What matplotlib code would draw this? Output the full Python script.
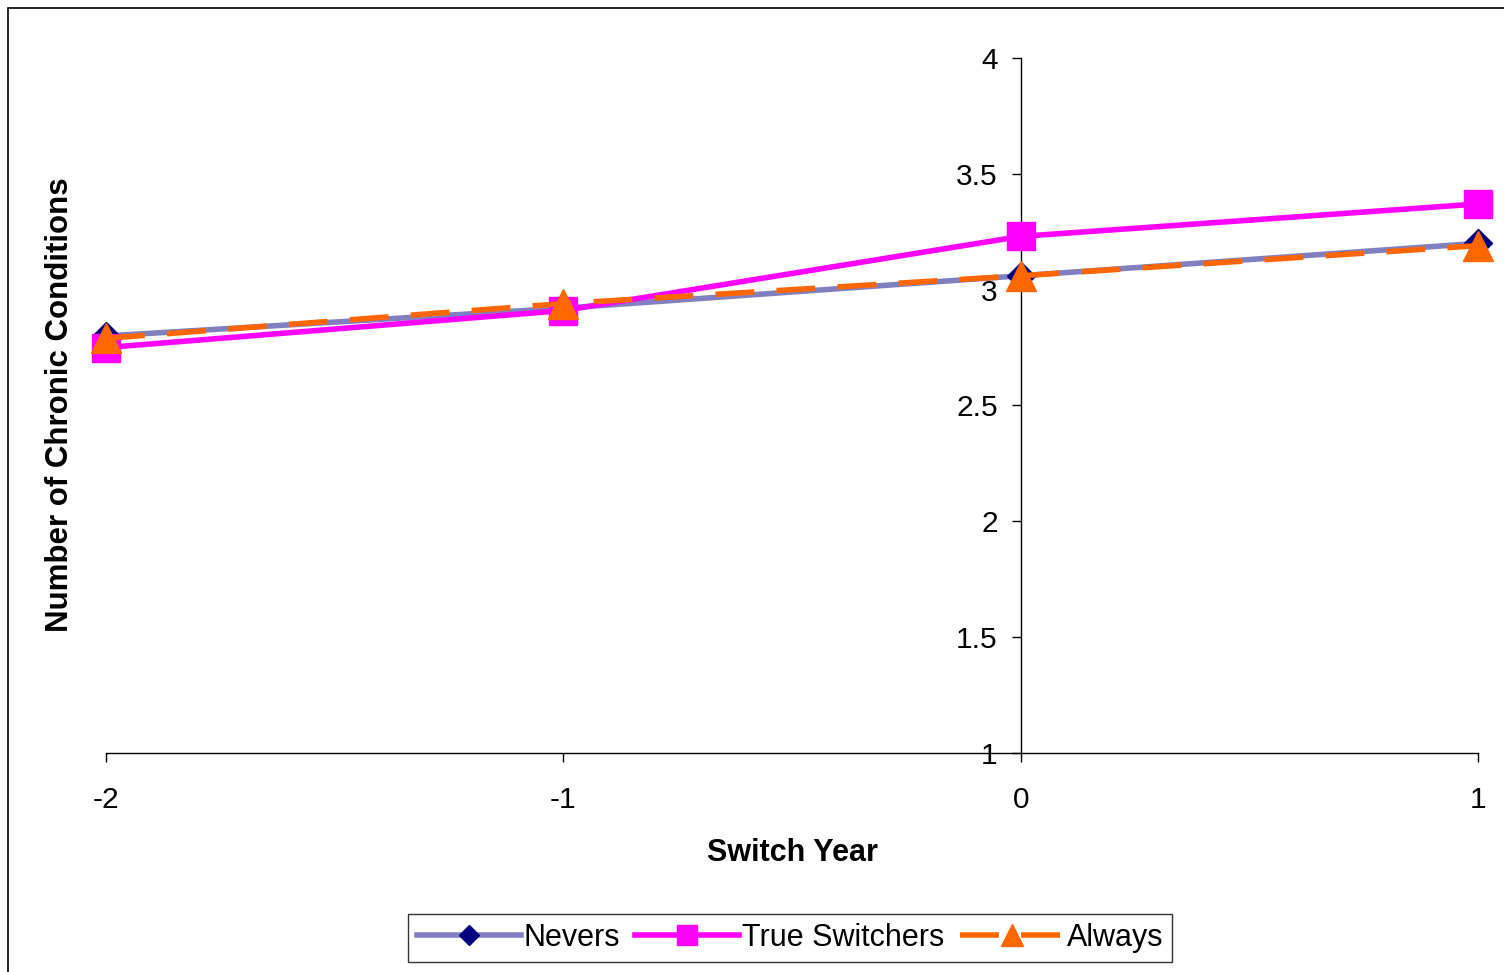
import matplotlib
matplotlib.use("Agg")
import matplotlib.pyplot as plt
from matplotlib.patches import Rectangle

plt.rcParams['font.family'] = ['Liberation Sans', 'DejaVu Sans']

years = [-2, -1, 0, 1]
nevers = [2.80, 2.92, 3.06, 3.20]
switchers = [2.75, 2.91, 3.23, 3.37]
always = [2.79, 2.94, 3.06, 3.19]
yticks = [1, 1.5, 2, 2.5, 3, 3.5, 4]
ytick_labels = ['1', '1.5', '2', '2.5', '3', '3.5', '4']

fig = plt.figure(figsize=(15.04, 9.72), dpi=100)
W, H = 1504, 972
ax = fig.add_axes([106 / W, 1 - 753 / H, (1478 - 106) / W, (753 - 58) / H])

ax.plot(years, nevers, color='#8080C0', lw=4, marker='D', ms=14,
        mfc='#000080', mec='#000080', label='Nevers', zorder=3, clip_on=False)
ax.plot(years, switchers, color='#FF00FF', lw=4, marker='s', ms=20,
        mfc='#FF00FF', mec='#FF00FF', label='True Switchers', zorder=4, clip_on=False)
ax.plot(years, always, color='#FF6600', lw=4, ls=(0, (7, 4)), marker='^', ms=21,
        mfc='#FF6600', mec='#FF6600', label='Always', zorder=5, clip_on=False)

ax.set_xlim(-2, 1)
ax.set_ylim(1, 4)
ax.spines['left'].set_position(('data', 0))
ax.spines['right'].set_visible(False)
ax.spines['top'].set_visible(False)
for s in ['left', 'bottom']:
    ax.spines[s].set_linewidth(1.0)
ax.set_xticks(years)
ax.set_xticklabels([str(y) for y in years])
ax.set_yticks(yticks)
ax.set_yticklabels(ytick_labels)
ax.tick_params(axis='both', direction='out', length=6.5, width=1, labelsize=21.5)
ax.tick_params(axis='x', pad=17)
ax.tick_params(axis='y', pad=10)

fig.text(792 / W, 1 - 853 / H, 'Switch Year', fontsize=22, fontweight='bold',
         ha='center', va='center')
fig.text(60 / W, 1 - 405 / H, 'Number of Chronic Conditions', rotation=90,
         fontsize=22.5, fontweight='bold', ha='center', va='center')

leg = ax.legend(loc='center', bbox_to_anchor=(790 / W, 1 - 938 / H),
                bbox_transform=fig.transFigure, ncol=3, fontsize=22,
                frameon=True, fancybox=False, edgecolor='black',
                handlelength=3.4, handletextpad=0.1, columnspacing=0.5,
                borderpad=0.3, borderaxespad=0, markerscale=0.75)
leg.get_frame().set_linewidth(1.0)

fig.patches.append(Rectangle((8 / W, -0.05), 1.2, 1 - 8 / H + 0.05,
                             transform=fig.transFigure, fill=False,
                             edgecolor='black', lw=1.2))

fig.savefig('out.png', dpi=100)
